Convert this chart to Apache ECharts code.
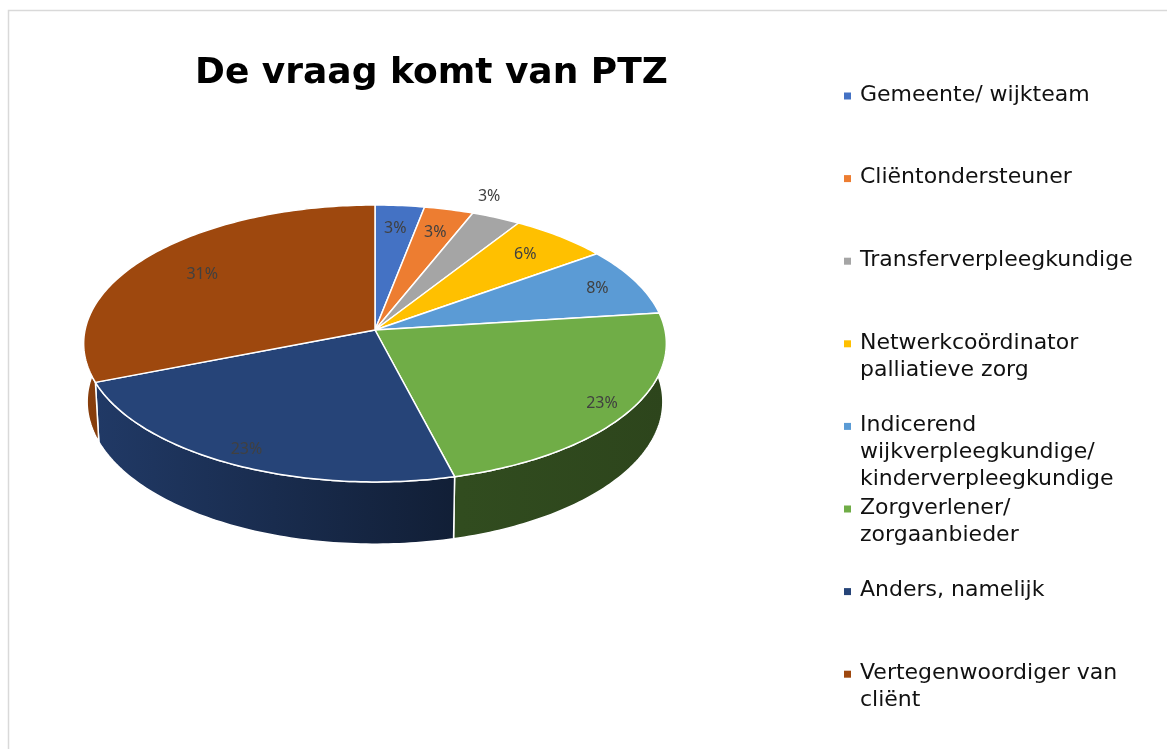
<!DOCTYPE html>
<html>
<head>
<meta charset="utf-8">
<script src="https://cdn.jsdelivr.net/npm/echarts@6/dist/echarts.min.js"></script>
<style>
  html, body { margin: 0; padding: 0; background: #ffffff; }
  #chart { width: 1167px; height: 749px; }
</style>
</head>
<body>
<div id="chart"></div>
<script>
// ---- data ----
const title = 'De vraag komt van PTZ';
const categories = [
  'Gemeente/ wijkteam',
  'Cliëntondersteuner',
  'Transferverpleegkundige',
  'Netwerkcoördinator palliatieve zorg',
  'Indicerend wijkverpleegkundige/ kinderverpleegkundige',
  'Zorgverlener/ zorgaanbieder',
  'Anders, namelijk',
  'Vertegenwoordiger van cliënt'
];
const values = [3, 3, 3, 6, 8, 23, 23, 31];
const colors = ['#4472C4', '#ED7D31', '#A5A5A5', '#FFC000', '#5B9BD5', '#70AD47', '#264478', '#9E480E'];

// ---- styling / layout config ----
const PIE = { cx: 375, cy: 330, F: 2627, D: 9.06, sinA: 0.473, thick: 0.23 };
PIE.cosA = Math.sqrt(1 - PIE.sinA * PIE.sinA);
const LABEL_R = [0.8, 0.8, 'out', 0.8, 0.85, 0.9, 0.9, 0.75];

function shade(hex, f) {
  const n = parseInt(hex.slice(1), 16);
  const r = Math.round(((n >> 16) & 255) * f);
  const g = Math.round(((n >> 8) & 255) * f);
  const b = Math.round((n & 255) * f);
  return 'rgb(' + r + ',' + g + ',' + b + ')';
}

function project(theta, rho, h) {
  const x3 = rho * Math.sin(theta);
  const z3 = rho * Math.cos(theta);
  const v = h * PIE.cosA + z3 * PIE.sinA;
  const w = PIE.D - h * PIE.sinA + z3 * PIE.cosA;
  return [PIE.cx + PIE.F * x3 / w, PIE.cy - PIE.F * v / w];
}

const total = values.reduce((a, b) => a + b, 0);
const starts = [];
(function () { let acc = 0; values.forEach(v => { starts.push(acc); acc += v; }); })();

function renderItem(params, api) {
  const i = params.dataIndex;
  const val = api.value(0);
  const a0 = starts[i] / total * Math.PI * 2;
  const a1 = (starts[i] + val) / total * Math.PI * 2;
  const steps = Math.max(4, Math.ceil((a1 - a0) / (Math.PI / 180)));
  const topArc = [], botArc = [];
  for (let k = 0; k <= steps; k++) {
    const t = a0 + (a1 - a0) * k / steps;
    topArc.push(project(t, 1, 0));
    botArc.push(project(t, 1, -PIE.thick));
  }
  const children = [];
  // outer wall
  const wallPts = topArc.concat(botArc.slice().reverse());
  children.push({
    type: 'polygon',
    z2: 1,
    shape: { points: wallPts },
    style: {
      fill: {
        type: 'linear', x: 85, y: 0, x2: 665, y2: 0, global: true,
        colorStops: [
          { offset: 0, color: shade(colors[i], 0.86) },
          { offset: 0.65, color: shade(colors[i], 0.44) },
          { offset: 1, color: shade(colors[i], 0.40) }
        ]
      },
      stroke: '#ffffff',
      lineWidth: 1.5
    }
  });
  // top face
  const apex = project(0, 0, 0);
  children.push({
    type: 'polygon',
    z2: 10,
    shape: { points: [apex].concat(topArc) },
    style: { fill: colors[i], stroke: '#ffffff', lineWidth: 1.5, lineJoin: 'round' }
  });
  // label
  const mid = (a0 + a1) / 2;
  let lp;
  if (LABEL_R[i] === 'out') {
    lp = project(mid, 1, 0);
    lp = [lp[0] - 7, lp[1] - 21];
  } else {
    lp = project(mid, LABEL_R[i], 0);
  }
  children.push({
    type: 'text',
    z2: 20,
    style: {
      text: Math.round(val / total * 100) + '%',
      x: lp[0], y: lp[1],
      fill: '#404040',
      font: '16px "Noto Sans"',
      align: 'center',
      verticalAlign: 'middle'
    }
  });
  return { type: 'group', children: children };
}

// legend built from the categories
const legendGraphics = [];
categories.forEach((name, i) => {
  const yc = 95 + i * 82.6;
  legendGraphics.push({
    type: 'rect',
    shape: { x: 844, y: yc - 2.5, width: 7, height: 7 },
    style: { fill: colors[i] }
  });
  legendGraphics.push({
    type: 'text',
    style: {
      text: name,
      x: 860, y: yc - 13.5,
      width: 300,
      overflow: 'break',
      lineHeight: 27,
      fill: '#111111',
      font: '22px "DejaVu Sans"',
      verticalAlign: 'top'
    }
  });
});

const chart = echarts.init(document.getElementById('chart'), null, { renderer: 'canvas' });
chart.setOption({
  backgroundColor: '#ffffff',
  animation: false,
  title: {
    text: title,
    left: 190,
    top: 51,
    textStyle: { fontFamily: 'DejaVu Sans', fontWeight: 'bold', fontSize: 36, color: '#000000' }
  },
  graphic: [
    {
      type: 'rect',
      silent: true,
      shape: { x: 8.5, y: 10.5, width: 1300, height: 900 },
      style: { fill: 'none', stroke: '#d9d9d9', lineWidth: 1.5 }
    }
  ].concat(legendGraphics),
  series: [{
    type: 'custom',
    coordinateSystem: 'none',
    silent: true,
    renderItem: renderItem,
    data: values.map((v, i) => ({ name: categories[i], value: [v] }))
  }]
});
</script>
</body>
</html>
